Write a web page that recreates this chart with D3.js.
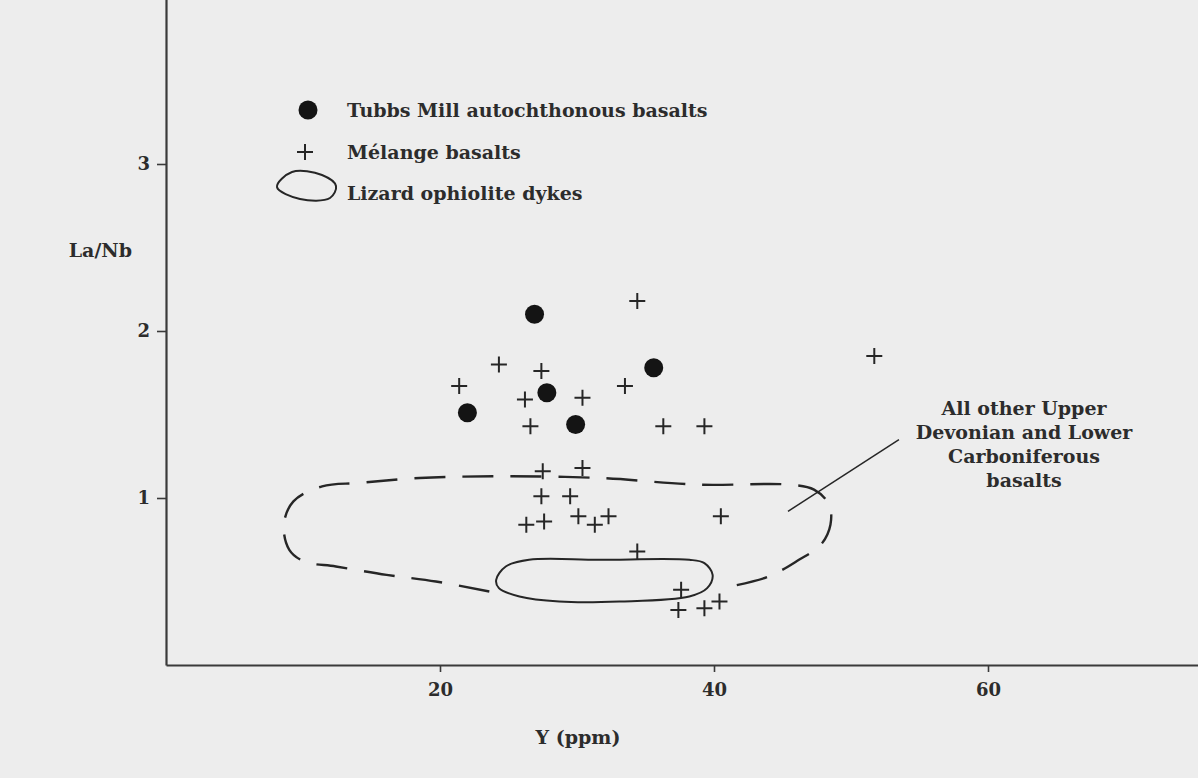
<!DOCTYPE html>
<html>
<head>
<meta charset="utf-8">
<script src="https://cdn.jsdelivr.net/npm/d3@7"></script>
<style>
  html, body { margin: 0; padding: 0; background: #ededed; }
  svg { display: block; }
  text { font-family: "DejaVu Serif", "Liberation Serif", serif; fill: #2c2c2c; font-weight: bold; }
</style>
</head>
<body>
<svg id="chart" width="1198" height="778"></svg>
<script>
// ---------- data ----------
// Tubbs Mill autochthonous basalts (filled circles)
const tubbsY    = [26.9, 35.6, 27.8, 22.0, 29.9];
const tubbsLaNb = [2.10, 1.78, 1.63, 1.51, 1.44];

// Mélange basalts (crosses)
const melangeY    = [34.4, 51.7, 24.3, 21.4, 27.4, 33.5, 26.2, 30.4, 26.6, 36.3, 39.3,
                     27.5, 30.4, 27.4, 29.5, 26.3, 27.6, 30.1, 31.3, 32.3, 40.5, 34.4,
                     37.6, 37.4, 39.3, 40.4];
const melangeLaNb = [2.18, 1.85, 1.80, 1.67, 1.76, 1.67, 1.59, 1.60, 1.43, 1.43, 1.43,
                     1.16, 1.18, 1.01, 1.01, 0.84, 0.86, 0.89, 0.84, 0.89, 0.89, 0.68,
                     0.45, 0.33, 0.34, 0.38];

// Lizard ophiolite dykes field outline (closed)
const lizardY    = [24.1, 24.8, 26.5, 31.6, 38.2, 39.3, 39.9, 39.5, 38.2, 33.1, 28.7, 25.8, 24.3];
const lizardLaNb = [0.51, 0.59, 0.63, 0.63, 0.63, 0.61, 0.54, 0.46, 0.41, 0.38, 0.38, 0.41, 0.46];

// All other Upper Devonian and Lower Carboniferous basalts field (dashed, open where it meets the dyke field)
const otherY    = [23.6, 19.7, 16.1, 12.4, 10.1, 9.0, 8.6, 9.3, 11.4, 14.1, 18.5, 24.3, 31.6,
                   38.9, 45.5, 47.3, 48.4, 48.5, 47.8, 46.2, 44.0, 41.2];
const otherLaNb = [0.44, 0.50, 0.54, 0.59, 0.62, 0.69, 0.84, 0.98, 1.07, 1.09, 1.12, 1.13, 1.12,
                   1.08, 1.08, 1.05, 0.96, 0.84, 0.72, 0.63, 0.53, 0.47];

// leader line from the dashed field to its label
const leaderY    = [45.4, 53.5];
const leaderLaNb = [0.92, 1.35];

const xTicks = [20, 40, 60];
const yTicks = [1, 2, 3];
const xTitle = "Y (ppm)";
const yTitle = "La/Nb";
const legendLabels = ["Tubbs Mill autochthonous basalts", "Mélange basalts", "Lizard ophiolite dykes"];
const fieldLabel = ["All other Upper", "Devonian and Lower", "Carboniferous", "basalts"];

// ---------- layout ----------
const ink = "#262626";
const svg = d3.select("#chart");
const x = d3.scaleLinear().domain([0, 76]).range([166, 166 + 76 * 13.7]);
const y = d3.scaleLinear().domain([0, 4]).range([665, 665 - 4 * 167]);

// axes
const xAxis = d3.axisBottom(x).tickValues(xTicks).tickFormat(d3.format("d"))
  .tickSize(7).tickSizeOuter(0).tickPadding(8);
const yAxis = d3.axisLeft(y).tickValues(yTicks).tickFormat(d3.format("d"))
  .tickSize(9).tickSizeOuter(0).tickPadding(7);

const gx = svg.append("g").attr("transform", `translate(0,${y(0)})`).call(xAxis);
const gy = svg.append("g").attr("transform", `translate(${x(0)},0)`).call(yAxis);
[gx, gy].forEach(g => {
  g.select(".domain").attr("stroke", "#3a3a3a").attr("stroke-width", 2.2);
  g.selectAll(".tick line").attr("stroke", "#3a3a3a").attr("stroke-width", 1.6);
  g.selectAll(".tick text").attr("fill", "#2c2c2c")
    .style("font-family", '"DejaVu Serif", serif').style("font-weight", "bold")
    .style("font-size", "18px");
});
gx.selectAll(".tick text").attr("dy", "0.9em");

svg.append("text").attr("x", 578).attr("y", 744).attr("text-anchor", "middle")
  .style("font-size", "19px").text(xTitle);
svg.append("text").attr("x", 132).attr("y", 257).attr("text-anchor", "end")
  .style("font-size", "19px").text(yTitle);

// fields
const lizardPts = lizardY.map((v, i) => [x(v), y(lizardLaNb[i])]);
svg.append("path")
  .attr("d", d3.line().curve(d3.curveCatmullRomClosed.alpha(0.5))(lizardPts))
  .attr("fill", "none").attr("stroke", ink).attr("stroke-width", 2);

const otherPts = otherY.map((v, i) => [x(v), y(otherLaNb[i])]);
svg.append("path")
  .attr("d", d3.line().curve(d3.curveCatmullRom.alpha(0.5))(otherPts))
  .attr("fill", "none").attr("stroke", ink).attr("stroke-width", 2.4)
  .attr("stroke-dasharray", "31 17");

const leaderPts = leaderY.map((v, i) => [x(v), y(leaderLaNb[i])]);
svg.append("path").attr("d", d3.line()(leaderPts))
  .attr("fill", "none").attr("stroke", ink).attr("stroke-width", 1.5);

const fl = svg.append("text").attr("text-anchor", "middle").style("font-size", "19px");
fieldLabel.forEach((t, i) => {
  fl.append("tspan").attr("x", 1024).attr("y", 415 + i * 24).text(t);
});

// crosses
const crossPath = (cx, cy, s) => `M${cx - s},${cy}H${cx + s}M${cx},${cy - s}V${cy + s}`;
svg.append("g").selectAll("path").data(melangeY).join("path")
  .attr("d", (d, i) => crossPath(x(d), y(melangeLaNb[i]), 8))
  .attr("stroke", ink).attr("stroke-width", 2).attr("fill", "none");

// circles
svg.append("g").selectAll("circle").data(tubbsY).join("circle")
  .attr("cx", d => x(d)).attr("cy", (d, i) => y(tubbsLaNb[i])).attr("r", 9.5)
  .attr("fill", "#141414");

// legend
const lg = svg.append("g");
const lx = 308, rows = [110, 152, 193];
lg.append("circle").attr("cx", lx).attr("cy", rows[0]).attr("r", 9.5).attr("fill", "#141414");
lg.append("path").attr("d", crossPath(lx - 3, rows[1], 8)).attr("stroke", ink).attr("stroke-width", 2);
lg.append("path")
  .attr("d", d3.line().curve(d3.curveCatmullRomClosed)([
    [277, 187], [292, 172], [322, 175], [336, 186], [330, 198], [300, 199]
  ]))
  .attr("fill", "none").attr("stroke", ink).attr("stroke-width", 2);
legendLabels.forEach((t, i) => {
  lg.append("text").attr("x", 347).attr("y", rows[i] + 7).style("font-size", "19px").text(t);
});
</script>
</body>
</html>
